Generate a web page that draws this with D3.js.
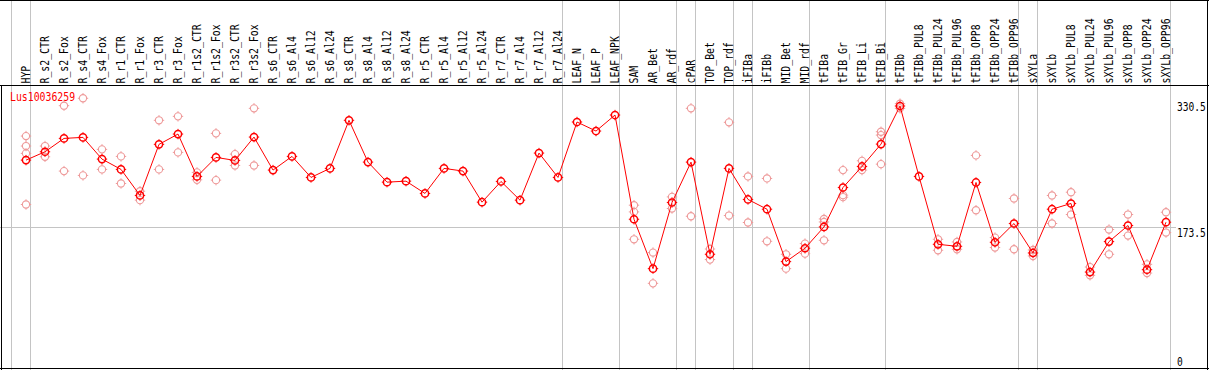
<!DOCTYPE html>
<html>
<head>
<meta charset="utf-8">
<script src="https://cdn.jsdelivr.net/npm/d3@7"></script>
<style>
  html, body { margin: 0; padding: 0; background: #fff; }
  svg { display: block; }
</style>
</head>
<body>
<script>
const geneName = "Lus10036259";

const categories = ["HYP","R_s2_CTR","R_s2_Fox","R_s4_CTR","R_s4_Fox","R_r1_CTR","R_r1_Fox","R_r3_CTR","R_r3_Fox",
  "R_r1s2_CTR","R_r1s2_Fox","R_r3s2_CTR","R_r3s2_Fox","R_s6_CTR","R_s6_Al4","R_s6_Al12","R_s6_Al24",
  "R_s8_CTR","R_s8_Al4","R_s8_Al12","R_s8_Al24","R_r5_CTR","R_r5_Al4","R_r5_Al12","R_r5_Al24",
  "R_r7_CTR","R_r7_Al4","R_r7_Al12","R_r7_Al24","LEAF_N","LEAF_P","LEAF_NPK","SAM","AR_Bet","AR_rdf",
  "cPAR","TOP_Bet","TOP_rdf","iFIBa","iFIBb","MID_Bet","MID_rdf","tFIBa","tFIB_Gr","tFIB_Li","tFIB_Bi",
  "tFIBb","tFIBb_PUL8","tFIBb_PUL24","tFIBb_PUL96","tFIBb_OPP8","tFIBb_OPP24","tFIBb_OPP96",
  "sXYLa","sXYLb","sXYLb_PUL8","sXYLb_PUL24","sXYLb_PUL96","sXYLb_OPP8","sXYLb_OPP24","sXYLb_OPP96"];

const meanValues = [260.5,271.3,288.6,289.9,261.8,248.5,214.8,280.9,294.2,
  239.4,264.0,260.1,290.3,247.6,265.3,238.1,249.8,
  312.0,257.9,232.0,233.3,217.4,249.8,246.3,206.1,
  232.9,208.7,269.6,238.1,309.8,298.1,318.8,184.0,120.1,205.7,
  257.9,138.7,249.8,209.6,197.0,129.2,146.5,174.1,225.1,252.3,281.2,
  330.5,239.4,151.6,149.0,231.6,154.2,178.5,
  140.4,197.0,204.4,115.7,155.1,175.9,118.8,180.2];

const replicateValues = [
  [291.6,278.7,269.2,203.1],[278.7,264.8],[330.9,246.3],[340.5,240.7],[274.4,248.5],[265.3,230.3],[220.3,208.7],[312.0,248.5],[317.1,270.5],
  [244.6,235.0],[295.1,234.6],[268.3,253.6],[327.5,253.6],[],[],[],[],
  [],[],[],[],[],[],[],[],
  [],[],[],[],[],[],[],[202.2,193.5,158.1],[140.9,101.1],[212.9,197.9],
  [327.5,187.9],[145.5,131.8],[309.4,188.8],[239.4,179.8],[236.8,155.5],[138.7,120.1],[152.5,139.6],[184.4,180.5,156.8],[247.6,215.2,212.6],[259.6,247.6],[297.2,292.9,255.3],
  [333.5,327.5],[],[158.1,143.9],[154.6,145.2],[266.6,195.7],[160.3,147.4],[210.9,145.2],
  [144.3,136.5],[214.8,178.5],[219.0,190.1],[122.2,111.5],[170.7,138.7],[190.1,162.9],[125.7,114.4],[193.1,166.8]];

const yTickValues = [0, 173.5, 330.5];
const yTickLabels = ["0", "173.5", "330.5"];
const groupStarts = [0, 1, 29, 32, 35, 36, 38, 39, 42, 46, 53, 54];

const W = 1209, H = 370;
const svg = d3.select("body").append("svg").attr("width", W).attr("height", H);
const FONT = "'DejaVu Sans Mono', 'Liberation Mono', monospace";
const CHAR = 5.92;

const x = d3.scaleBand().domain(categories).range([11, 1170]).paddingInner(0).paddingOuter(0);
const px = c => x(c) + 15;
const y = d3.scaleLinear().domain([0, 330.5]).range([361.5, 106]);

// grey vertical separators
const sepX = groupStarts.map(i => x(categories[i])).concat([x.range()[1]]);
svg.append("g").selectAll("line").data(sepX).join("line")
  .attr("x1", d => Math.round(d) + 0.5).attr("x2", d => Math.round(d) + 0.5)
  .attr("y1", 0).attr("y2", H)
  .attr("stroke", "#c4c4c4").attr("stroke-width", 1);

// horizontal grey line at middle tick
svg.append("line")
  .attr("x1", 0).attr("x2", 1176)
  .attr("y1", Math.round(y(173.5)) + 0.5).attr("y2", Math.round(y(173.5)) + 0.5)
  .attr("stroke", "#c4c4c4").attr("stroke-width", 1);

// header labels
svg.append("g").selectAll("text").data(categories).join("text")
  .attr("transform", c => `translate(${px(c) + 4.4},83.5) rotate(-90)`)
  .attr("font-family", FONT).attr("font-size", 12).attr("fill", "#000")
  .attr("textLength", c => c.length * CHAR).attr("lengthAdjust", "spacingAndGlyphs")
  .text(c => c);

// y tick labels on the right
const yLabOffsets = [0.5, 5.5, 1];
svg.append("g").selectAll("text").data(yTickValues).join("text")
  .attr("transform", (d, i) => `translate(1177,${y(d) + yLabOffsets[i] + 4.3}) scale(1,1.2)`)
  .attr("font-family", FONT).attr("font-size", 9.6).attr("fill", "#000")
  .text((d, i) => yTickLabels[i]);

// gene name
svg.append("text").attr("x", 10).attr("y", 101)
  .attr("font-family", FONT).attr("font-size", 12).attr("fill", "#ff0000")
  .attr("textLength", geneName.length * CHAR).attr("lengthAdjust", "spacingAndGlyphs")
  .text(geneName);

function marker(g, cx, cy, color, sw) {
  g.append("circle").attr("cx", cx).attr("cy", cy).attr("r", 3.6)
    .attr("fill", "none").attr("stroke", color).attr("stroke-width", sw);
  const t = [[0, -1], [0, 1], [-1, 0], [1, 0]];
  t.forEach(([dx, dy]) => {
    g.append("line")
      .attr("x1", cx + dx * 3.6).attr("y1", cy + dy * 3.6)
      .attr("x2", cx + dx * 5.2).attr("y2", cy + dy * 5.2)
      .attr("stroke", color).attr("stroke-width", 1);
  });
}

// replicates
const repG = svg.append("g");
categories.forEach((c, i) => {
  replicateValues[i].forEach(v => marker(repG, px(c), y(v), "#ee9a9a", 1.1));
});

// mean line
const line = d3.line().x((d, i) => px(categories[i])).y(d => y(d));
svg.append("path").datum(meanValues).attr("d", line)
  .attr("fill", "none").attr("stroke", "#ff0000").attr("stroke-width", 1);

// mean markers
const meanG = svg.append("g");
categories.forEach((c, i) => marker(meanG, px(c), y(meanValues[i]), "#ff0000", 1.5));

// borders
const border = svg.append("g").attr("stroke", "#000").attr("stroke-width", 1);
border.append("line").attr("x1", 0).attr("x2", W).attr("y1", 0.5).attr("y2", 0.5);
border.append("line").attr("x1", 0).attr("x2", W).attr("y1", 85.5).attr("y2", 85.5);
border.append("line").attr("x1", 0).attr("x2", W).attr("y1", 368.5).attr("y2", 368.5);
border.append("line").attr("x1", 1.5).attr("x2", 1.5).attr("y1", 85).attr("y2", H);
border.append("line").attr("x1", 1207.5).attr("x2", 1207.5).attr("y1", 0).attr("y2", H);
</script>
</body>
</html>
